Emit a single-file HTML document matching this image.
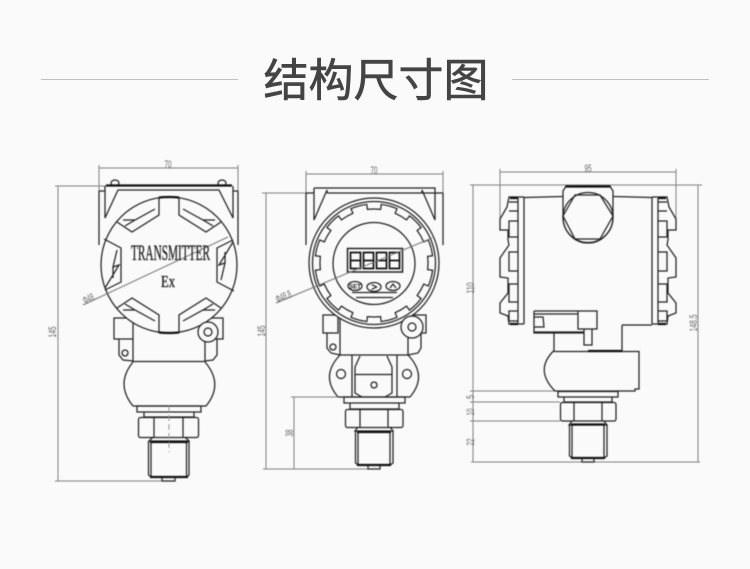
<!DOCTYPE html>
<html lang="zh">
<head>
<meta charset="utf-8">
<title>结构尺寸图</title>
<style>
html,body{margin:0;padding:0;background:#fafafa;}
body{width:750px;height:569px;overflow:hidden;}
svg{display:block;}
.draw{filter:blur(0.4px);}
.k{fill:none;stroke:#222;stroke-width:1.25;}
.kf{fill:#fafafa;stroke:#222;stroke-width:1.25;}
.t{fill:none;stroke:#111;stroke-width:2.2;}
.d{fill:none;stroke:#808080;stroke-width:1;}
.n{font-family:"Liberation Sans",sans-serif;font-size:11px;fill:#666;text-anchor:middle;}
.s{font-family:"Liberation Serif",serif;fill:#222;stroke:#222;stroke-width:.35;text-anchor:middle;}
</style>
</head>
<body>
<svg width="750" height="569" viewBox="0 0 750 569" xmlns="http://www.w3.org/2000/svg">
<defs>
<g id="rs">
<path class="k" d="M159 197V215L132 232L117 222M123 220H135L155 209M125 226L135 220"/>
</g>
<g id="side">
<path class="k" d="M104 239L121 248V282L105 290M117 250L113 267L119 265L105 288M113 267V278"/>
</g>
<path id="tooth" class="k" d="M-15.27-57A59 59 0 0 1-7.2-58.56L-6.58-53.6A54 54 0 0 1 6.58-53.6L7.2-58.56A59 59 0 0 1 15.27-57"/>
<g id="fin">
<path class="k" d="M524 197H509L507 207L500 219V230H508V240L509 245L500 258V277L508 278V293L500 303V313L508 316L509 324H524"/>
<path class="k" d="M524 197V324"/>
<path class="k" d="M518 198V323M509 202H518M509 211H518M509 221H518V237H509ZM509 252H518V271H509ZM509 284H518V302H509ZM509 311H518V321H509Z"/>
<path class="t" d="M510 198H518M510 324H518"/>
</g>
</defs>

<!-- title -->
<line x1="41" y1="79.5" x2="238" y2="79.5" stroke="#c0c0c0" stroke-width="1"/>
<line x1="512" y1="79.5" x2="709" y2="79.5" stroke="#c0c0c0" stroke-width="1"/>
<text x="376" y="96" text-anchor="middle" font-size="45" fill="#444" stroke="#444" stroke-width=".6" font-family="'Liberation Sans','Noto Sans CJK SC',sans-serif">结构尺寸图</text>

<g class="draw">
<!-- ============ LEFT VIEW ============ -->
<path class="d" d="M99 165V245M238 165V245M99 168H238M55 186H106M58 186V481M55 481H175"/>
<text class="n" x="168" y="168" textLength="7" lengthAdjust="spacingAndGlyphs">70</text>
<text class="n" transform="translate(56 332) rotate(-90)" textLength="11" lengthAdjust="spacingAndGlyphs">145</text>

<ellipse class="k" cx="115" cy="183" rx="4" ry="3"/>
<ellipse class="k" cx="222" cy="183" rx="4" ry="3"/>
<path class="t" d="M106 185.5H232"/>
<path class="k" d="M105 186V218L118 190H219L233 218V186M99 191H105M233 191H238M99 191V245M238 191V245"/>

<path class="k" d="M114 318H133V339H114ZM119 339V355L123 360L133 361M133 318V361.5H205V318M205 339H217V355L213 360L205 361M205 318H223V339H205"/>
<circle class="k" cx="125" cy="353" r="3"/>

<circle class="kf" cx="169" cy="265" r="68" stroke-width="1.6"/>
<use href="#rs"/>
<use href="#rs" transform="matrix(-1 0 0 1 338 0)"/>
<use href="#rs" transform="matrix(1 0 0 -1 0 530)"/>
<use href="#rs" transform="matrix(-1 0 0 -1 338 530)"/>
<use href="#side"/>
<use href="#side" transform="matrix(-1 0 0 -1 338 530)"/>
<path class="t" d="M159 197.5Q169 196.5 179 197.5M159 332.5Q169 333.5 179 332.5"/>
<line x1="83" y1="305" x2="228" y2="237" stroke="#777" stroke-width="1"/>
<text class="n" transform="translate(90 302) rotate(-25)" font-size="9" textLength="11" lengthAdjust="spacingAndGlyphs">Φ48</text>
<text class="s" x="170.5" y="260" font-size="22" textLength="79" lengthAdjust="spacingAndGlyphs">TRANSMITTER</text>
<text class="s" x="168" y="287" font-size="17" textLength="14" lengthAdjust="spacingAndGlyphs">Ex</text>

<circle class="kf" cx="208" cy="332" r="10"/>
<circle class="k" cx="208" cy="332" r="4" stroke-width="1.6"/>

<path class="k" d="M133 362Q115 384 133 406H206Q224 384 205 362"/>
<path class="k" d="M137 406H201V412H137ZM144 412H194V417H144Z"/>
<rect class="k" x="138.500" y="417.500" width="60" height="20" rx="2"/>
<path class="k" d="M154 417.500V437M183 417.500V437M153 437L149 441H189L185 437"/>
<path class="k" d="M148.500 441V475L151 477H187L189 475V441M151 441V477M186.500 441V477"/>
<path class="t" d="M150 442H188M150 477H188"/>
<path class="k" d="M162 477V481H175V477"/>
<line x1="169" y1="406" x2="169" y2="452" stroke="#999" stroke-width="1" stroke-dasharray="6 3"/>

<!-- ============ MIDDLE VIEW ============ -->
<path class="d" d="M306 171V193M443 171V245M306 174H443M262 193H314M266 193V469M263 469H380"/>
<text class="n" x="374" y="174" textLength="7" lengthAdjust="spacingAndGlyphs">70</text>
<text class="n" transform="translate(265 331) rotate(-90)" textLength="11" lengthAdjust="spacingAndGlyphs">145</text>

<path class="k" d="M314 188H435V220L422 190V193M435 193H327M314 188V220L327 190V193M306 193H314M435 193H443M306 193V245M443 193V245"/>
<path class="k" d="M323 315H338V333H323ZM327 333V348L331 353L340 355M340 315V355H408V315M408 333H421V348L418 353L408 355M408 315H426V333H408"/>
<circle class="k" cx="333" cy="347" r="3"/>

<circle class="kf" cx="374" cy="263" r="65"/>
<circle class="k" cx="374" cy="263" r="61.500"/>
<g transform="translate(374 263)">
<use href="#tooth"/>
<use href="#tooth" transform="rotate(30)"/>
<use href="#tooth" transform="rotate(60)"/>
<use href="#tooth" transform="rotate(90)"/>
<use href="#tooth" transform="rotate(120)"/>
<use href="#tooth" transform="rotate(150)"/>
<use href="#tooth" transform="rotate(180)"/>
<use href="#tooth" transform="rotate(210)"/>
<use href="#tooth" transform="rotate(240)"/>
<use href="#tooth" transform="rotate(270)"/>
<use href="#tooth" transform="rotate(300)"/>
<use href="#tooth" transform="rotate(330)"/>
</g>
<circle class="k" cx="374" cy="263.500" r="41"/>
<rect x="347.500" y="248.500" width="55" height="23.500" fill="none" stroke="#222" stroke-width="1.5"/>
<g fill="none" stroke="#111" stroke-width="1.7">
<path d="M350.500 252.500H360.500V268.500H350.500ZM350.500 260.500H360.500"/>
<path d="M363.500 252.500H373.500V268.500H363.500ZM363.500 260.500H373.500"/>
<path d="M376.500 252.500H386.500V268.500H376.500ZM376.500 260.500H386.500"/>
<path d="M389.500 252.500H399.500V268.500H389.500ZM389.500 260.500H399.500"/>
</g>
<line x1="276" y1="303" x2="432" y2="238" stroke="#777" stroke-width="1"/>
<text class="n" transform="translate(285 300) rotate(-23)" font-size="9" textLength="16" lengthAdjust="spacingAndGlyphs">Φ48.8</text>
<ellipse class="k" cx="355" cy="286" rx="7" ry="4.500" stroke-width="1.4"/>
<ellipse class="k" cx="374" cy="287" rx="7" ry="4.500" stroke-width="1.4"/>
<ellipse class="k" cx="393" cy="286" rx="7" ry="4.500" stroke-width="1.4"/>
<text x="355" y="288.500" font-size="6" text-anchor="middle" fill="#222" font-family="'Liberation Sans',sans-serif" font-weight="bold">SET</text>
<path class="k" d="M371.500 284.500L376.500 287L371.500 289.500M390 288L393 284L396 288"/>
<path class="k" d="M352 292.500H397M356 297.500H393"/>

<circle class="kf" cx="412" cy="327" r="11"/>
<circle class="k" cx="412" cy="327" r="4" stroke-width="2.2"/>

<path class="k" d="M340 355Q320 376 338 397H410Q428 376 408 355M352 355V397M397 355V397"/>
<path class="k" d="M360 356L355 367V393L362 397M387 356L392 367V393L385 397M355 374.500H392"/>
<circle class="k" cx="341" cy="374" r="4.500" stroke-width="1.9"/>
<circle class="k" cx="407" cy="374" r="4.500" stroke-width="1.9"/>
<circle class="k" cx="374" cy="385" r="3"/>
<path class="k" d="M344 397H405V403H344ZM350 403H399V409H350Z"/>
<rect class="k" x="345.500" y="409.500" width="57.500" height="18" rx="2"/>
<path class="k" d="M360 409.500V427M388 409.500V427M358 427L355 431H393L390 427"/>
<path class="k" d="M355.500 431V463L358 465H390L393 463V431M358 431V465M390 431V465"/>
<path class="t" d="M357 432H391M357 465H391"/>
<path class="k" d="M368 466V469H380V466"/>
<path class="d" d="M291 397H338M294 397V469"/>
<text class="n" transform="translate(293 433) rotate(-90)" textLength="7" lengthAdjust="spacingAndGlyphs">38</text>

<!-- ============ RIGHT VIEW ============ -->
<path class="d" d="M500 169V219M676 169V219M500 172H676M470 185H702M473 185V462M698 185V462M471 462H700"/>
<path class="d" d="M470 391H555M470 402H560M470 421H560"/>
<text class="n" x="588" y="172" textLength="7" lengthAdjust="spacingAndGlyphs">95</text>
<text class="n" transform="translate(474 288) rotate(-90)" textLength="11" lengthAdjust="spacingAndGlyphs">110</text>
<text class="n" transform="translate(697 323) rotate(-90)" textLength="17" lengthAdjust="spacingAndGlyphs">148.5</text>
<text class="n" transform="translate(474 397) rotate(-90)" textLength="4" lengthAdjust="spacingAndGlyphs">5</text>
<text class="n" transform="translate(474 412) rotate(-90)" textLength="7" lengthAdjust="spacingAndGlyphs">10</text>
<text class="n" transform="translate(474 442) rotate(-90)" textLength="7" lengthAdjust="spacingAndGlyphs">22</text>

<path class="k" d="M524 197.500L563 196.500M652 197.500L613 196.500"/>
<use href="#fin"/>
<use href="#fin" transform="matrix(-1 0 0 1 1176 0)"/>
<path class="kf" d="M566 186L563 191V217A25 26 0 0 0 613 217V191L610 186Z"/>
<path class="t" d="M566 186.500H610"/>
<circle class="k" cx="588" cy="217.500" r="25"/>
<path class="k" d="M563 216L575 195H600L613 216L600 239H575Z"/>

<path class="k" d="M534 311H597V329H578V311M534 311V333H584M534 314H578M534 332H584M534 317H543L544 327H534"/>
<path class="k" d="M584 329V345H592V329"/>
<path class="k" d="M554 333V351M622 325V351"/>
<path class="k" d="M622 325H652"/>
<path class="k" d="M554 350.500Q534 370 555 391H635V389H639V351.500H554"/>
<path class="t" d="M588 351H622"/>
<path class="k" d="M558 391.500H618V397H558ZM564 397H612V402H564Z"/>
<rect class="k" x="560.500" y="402.500" width="55.500" height="18.500" rx="2"/>
<path class="k" d="M574 402.500V421M602 402.500V421M572 421L569 425H607L604 421"/>
<path class="k" d="M569.500 425V456L572 458H604L607 456V425M572 425V458M604 425V458"/>
<path class="t" d="M571 424.500H605M571 458H605"/>
<path class="k" d="M582 458V462H594V458"/>
</g>
</svg>
</body>
</html>
